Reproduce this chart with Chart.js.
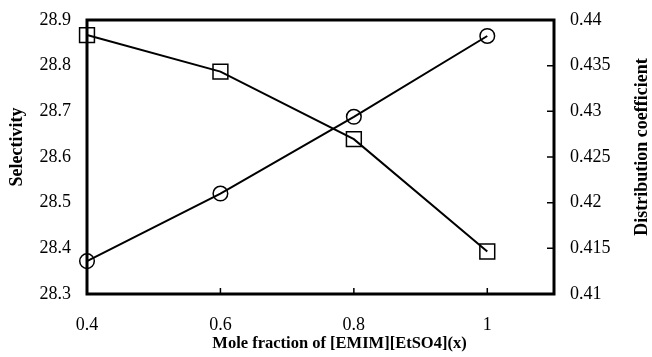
<!DOCTYPE html>
<html>
<head>
<meta charset="utf-8">
<script src="https://cdn.jsdelivr.net/npm/chart.js@4.4.1/dist/chart.umd.min.js"></script>
<style>
  html, body { margin: 0; padding: 0; background: #fff; }
</style>
</head>
<body>
<canvas id="myChart" width="652" height="357"></canvas>
<script>
// values
const moleFraction = [0.4, 0.6, 0.8, 1.0]
const selectivity = [28.867, 28.787, 28.639, 28.393]   // squares, left axis
const distCoeff = [0.4136, 0.4210, 0.4294, 0.43825]    // circles, right axis
const xTicks = [0.4, 0.6, 0.8, 1]
const leftTicks = [28.3, 28.4, 28.5, 28.6, 28.7, 28.8, 28.9]
const rightTicks = [0.41, 0.415, 0.42, 0.425, 0.43, 0.435, 0.44]
const xTitle = 'Mole fraction of [EMIM][EtSO4](x)'
const leftTitle = 'Selectivity'
const rightTitle = 'Distribution coefficient'

const serif = 'Liberation Serif'

// frame box + inward tick marks, like the spreadsheet chart
const framePlugin = {
    id: 'frame',
    beforeDatasetsDraw (chart) {
        const ctx = chart.ctx
        const a = chart.chartArea
        const x = chart.scales.x
        const y1 = chart.scales.y1
        ctx.save()
        ctx.strokeStyle = '#000'
        ctx.lineWidth = 1.5
        ctx.beginPath()
        xTicks.forEach(v => {
            const px = x.getPixelForValue(v)
            ctx.moveTo(px, a.bottom)
            ctx.lineTo(px, a.bottom - 6)
        })
        rightTicks.forEach(v => {
            const py = y1.getPixelForValue(v)
            ctx.moveTo(a.right, py)
            ctx.lineTo(a.right - 7, py)
        })
        ctx.stroke()
        ctx.lineWidth = 3
        ctx.strokeRect(a.left, a.top, a.right - a.left, a.bottom - a.top)
        ctx.restore()
    },
    afterDraw (chart) {
        const ctx = chart.ctx
        const a = chart.chartArea
        const midY = (a.top + a.bottom) / 2 - 10
        ctx.save()
        ctx.fillStyle = '#000'
        ctx.textAlign = 'center'
        ctx.textBaseline = 'middle'
        ctx.font = 'bold 16.5px "' + serif + '"'
        ctx.fillText(xTitle, (a.left + a.right) / 2 + 19, 344)
        ctx.font = 'bold 18px "' + serif + '"'
        ctx.save()
        ctx.translate(17, midY)
        ctx.rotate(-Math.PI / 2)
        ctx.fillText(leftTitle, 0, 0)
        ctx.restore()
        ctx.save()
        ctx.translate(642, midY)
        ctx.rotate(-Math.PI / 2)
        ctx.fillText(rightTitle, 0, 0)
        ctx.restore()
        ctx.restore()
    }
}

const tickFont = { family: serif, size: 18 }

// fixed axis sizes so the plot box lands where the reference has it
function fixVertical (width) {
    return s => {
        s.width = width
        s.paddingTop = 0
        s.paddingBottom = 0
    }
}

const ctx = document.getElementById('myChart')
const myChart = new Chart(ctx, {
    type: 'line',
    data: {
        datasets: [{
            label: 'Selectivity',
            data: moleFraction.map((v, i) => ({ x: v, y: selectivity[i] })),
            yAxisID: 'y',
            borderColor: '#000',
            borderWidth: 2,
            pointStyle: 'rect',
            pointRadius: 10.5,
            pointBorderWidth: 1.5,
            pointBackgroundColor: 'rgba(0,0,0,0)',
            pointBorderColor: '#000',
            fill: false,
            tension: 0,
            clip: false
        }, {
            label: 'Distribution coefficient',
            data: moleFraction.map((v, i) => ({ x: v, y: distCoeff[i] })),
            yAxisID: 'y1',
            borderColor: '#000',
            borderWidth: 2,
            pointStyle: 'circle',
            pointRadius: 7.3,
            pointBorderWidth: 1.5,
            pointBackgroundColor: 'rgba(0,0,0,0)',
            pointBorderColor: '#000',
            fill: false,
            tension: 0,
            clip: false
        }]
    },
    options: {
        responsive: false,
        animation: false,
        devicePixelRatio: 1,
        layout: { padding: { top: 20, left: 0, right: 0, bottom: 0 } },
        plugins: {
            legend: { display: false },
            tooltip: { enabled: false }
        },
        scales: {
            x: {
                type: 'linear',
                min: 0.4,
                max: 1.1,
                afterBuildTicks: s => { s.ticks = xTicks.map(v => ({ value: v })) },
                afterFit: s => { s.height = 63; s.paddingLeft = 0; s.paddingRight = 0 },
                grid: { display: false, drawTicks: false },
                border: { display: false },
                ticks: {
                    padding: 20, color: '#000', font: tickFont,
                    maxRotation: 0, autoSkip: false,
                    callback: v => String(v)
                }
            },
            y: {
                position: 'left',
                min: 28.3,
                max: 28.9,
                afterBuildTicks: s => { s.ticks = leftTicks.map(v => ({ value: v })) },
                afterFit: fixVertical(87),
                grid: { display: false, drawTicks: false },
                border: { display: false },
                ticks: { padding: 16, color: '#000', font: tickFont, callback: v => String(v) }
            },
            y1: {
                position: 'right',
                min: 0.41,
                max: 0.44,
                afterBuildTicks: s => { s.ticks = rightTicks.map(v => ({ value: v })) },
                afterFit: fixVertical(98),
                grid: { display: false, drawTicks: false },
                border: { display: false },
                ticks: { padding: 16, color: '#000', font: tickFont, callback: v => String(v) }
            }
        }
    },
    plugins: [framePlugin]
})
</script>
</body>
</html>
